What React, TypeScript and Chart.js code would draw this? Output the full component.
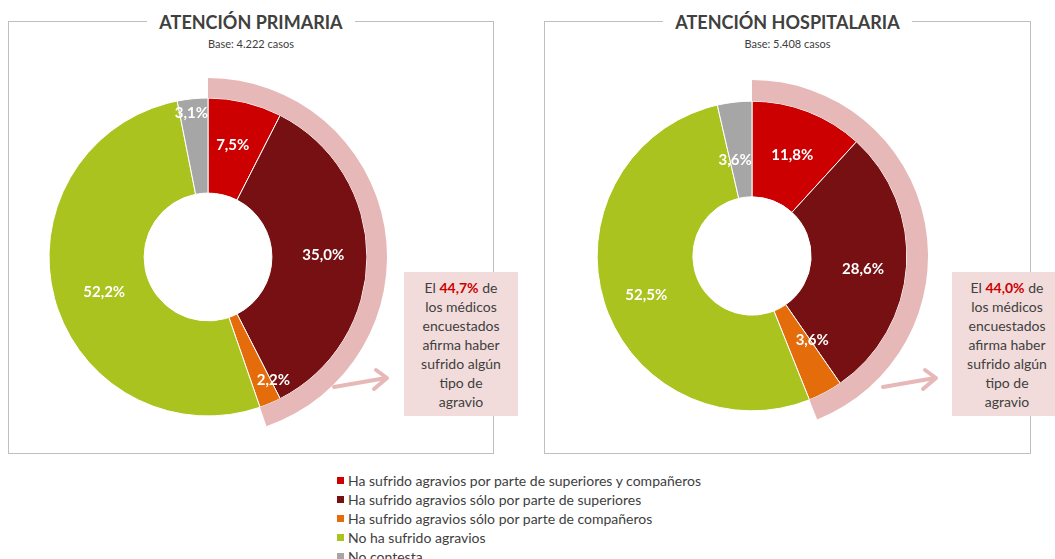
import React, { useEffect, useRef } from "react";
import { Chart, registerables } from "chart.js";

Chart.register(...registerables);

// ---------- DATA ----------
const categories = [
  "Ha sufrido agravios por parte de superiores y compañeros",
  "Ha sufrido agravios sólo por parte de superiores",
  "Ha sufrido agravios sólo por parte de compañeros",
  "No ha sufrido agravios",
  "No contesta",
];
const primariaValues = [7.5, 35.0, 2.2, 52.2, 3.1];
const hospitalariaValues = [11.8, 28.6, 3.6, 52.5, 3.6];
const affectedCategoryCount = 3; // first three categories = some kind of grievance
const panelTitles = ["ATENCIÓN PRIMARIA", "ATENCIÓN HOSPITALARIA"];
const panelBases = ["Base: 4.222 casos", "Base: 5.408 casos"];

// ---------- STYLE ----------
const sliceColors = ["#CC0000", "#761012", "#E46C0A", "#AAC31F", "#A6A6A6"];
const ringColor = "#E6B9B8";
const calloutFill = "#F2DCDB";
const frameColor = "#BFBFBF";
const textColor = "#404040";

const fmt = (v: number) => v.toFixed(1).replace(".", ",") + "%";
const sum = (a: number[]) => a.reduce((s, v) => s + v, 0);

const sliceLabelPlugin = {
  id: "sliceLabels",
  afterDatasetsDraw(chart: any, _args: any, opts: any) {
    const meta = chart.getDatasetMeta(1);
    const values = chart.data.datasets[1].data as number[];
    const ctx = chart.ctx as CanvasRenderingContext2D;
    ctx.save();
    ctx.font = "bold 15px Lato";
    ctx.fillStyle = "#FFFFFF";
    ctx.textAlign = "center";
    ctx.textBaseline = "middle";
    meta.data.forEach((arc: any, i: number) => {
      const p = arc.getProps(["x", "y", "startAngle", "endAngle", "innerRadius", "outerRadius"], true);
      const a = (p.startAngle + p.endAngle) / 2 + ((opts.angleShift?.[i] || 0) * Math.PI) / 180;
      const r = p.innerRadius + (p.outerRadius - p.innerRadius) * (opts.radial?.[i] ?? 0.5);
      ctx.fillText(fmt(values[i]), p.x + r * Math.cos(a), p.y + r * Math.sin(a));
    });
    ctx.restore();
  },
};

function Donut(props: {
  values: number[];
  size: number;
  left: number;
  top: number;
  cutout: string;
  ringWeight: number;
  mainWeight: number;
  radial: number[];
  angleShift: number[];
}) {
  const ref = useRef<HTMLCanvasElement | null>(null);
  useEffect(() => {
    if (!ref.current) return;
    const total = sum(props.values);
    const affected = sum(props.values.slice(0, affectedCategoryCount));
    const chart = new Chart(ref.current, {
      type: "doughnut",
      data: {
        labels: categories,
        datasets: [
          {
            data: [affected, total - affected],
            backgroundColor: [ringColor, "rgba(0,0,0,0)"],
            borderWidth: 0,
            weight: props.ringWeight,
          } as any,
          {
            data: props.values,
            backgroundColor: sliceColors,
            borderColor: "#FFFFFF",
            borderWidth: 1,
            weight: props.mainWeight,
          } as any,
        ],
      },
      options: {
        responsive: false,
        maintainAspectRatio: false,
        animation: false,
        devicePixelRatio: 1,
        cutout: props.cutout,
        events: [],
        layout: { padding: 0 },
        plugins: {
          legend: { display: false },
          tooltip: { enabled: false },
          sliceLabels: { radial: props.radial, angleShift: props.angleShift },
        } as any,
      },
      plugins: [sliceLabelPlugin],
    });
    return () => chart.destroy();
  }, []);
  return (
    <canvas
      ref={ref}
      width={props.size}
      height={props.size}
      style={{ position: "absolute", left: props.left, top: props.top, width: props.size, height: props.size }}
    />
  );
}

function Panel(props: { left: number; width: number; title: string; base: string }) {
  return (
    <>
      <div
        style={{
          position: "absolute",
          left: props.left,
          top: 21,
          width: props.width,
          height: 433,
          border: `1px solid ${frameColor}`,
          boxSizing: "border-box",
        }}
      />
      <div
        style={{
          position: "absolute",
          left: props.left,
          width: props.width,
          top: 9,
          textAlign: "center",
        }}
      >
        <span
          style={{
            background: "#fff",
            padding: "0 12px",
            font: "bold 18px Lato",
            color: textColor,
            lineHeight: "26px",
          }}
        >
          {props.title}
        </span>
      </div>
      <div
        style={{
          position: "absolute",
          left: props.left,
          width: props.width,
          top: 37,
          textAlign: "center",
          font: "11px Lato",
          color: textColor,
        }}
      >
        {props.base}
      </div>
    </>
  );
}

function Callout(props: { left: number; width: number; value: number }) {
  return (
    <div
      style={{
        position: "absolute",
        left: props.left,
        top: 272,
        width: props.width,
        height: 144,
        background: calloutFill,
        boxSizing: "border-box",
        paddingTop: 6,
        textAlign: "center",
        font: "14px Lato",
        lineHeight: "19px",
        color: textColor,
      }}
    >
      El <span style={{ color: "#CC0000", fontWeight: "bold" }}>{fmt(props.value)}</span> de
      <br />
      los médicos
      <br />
      encuestados
      <br />
      afirma haber
      <br />
      sufrido algún
      <br />
      tipo de
      <br />
      agravio
    </div>
  );
}

function Arrow(props: { dx: number }) {
  const d = props.dx;
  return (
    <svg
      width={1055}
      height={559}
      style={{ position: "absolute", left: 0, top: 0, pointerEvents: "none" }}
    >
      <g stroke={ringColor} strokeWidth={4} fill="none" strokeLinecap="round" strokeLinejoin="round">
        <line x1={334 + d} y1={387} x2={386 + d} y2={378} />
        <polyline points={`${376 + d},${370} ${387 + d},${378} ${374 + d},${389}`} />
      </g>
    </svg>
  );
}

export default function App() {
  useEffect(() => {
    document.body.style.margin = "0";
  }, []);
  const affP = sum(primariaValues.slice(0, affectedCategoryCount));
  const affH = sum(hospitalariaValues.slice(0, affectedCategoryCount));
  return (
    <div style={{ position: "relative", width: 1055, height: 559, overflow: "hidden", background: "#fff" }}>
      <Panel left={8} width={486} title={panelTitles[0]} base={panelBases[0]} />
      <Panel left={544} width={487} title={panelTitles[1]} base={panelBases[1]} />
      <Arrow dx={0} />
      <Arrow dx={549} />
      <Donut
        values={primariaValues}
        size={358}
        left={29}
        top={78}
        cutout="35.7%"
        ringWeight={20}
        mainWeight={95}
        radial={[0.53, 0.54, 0.79, 0.48, 0.85]}
        angleShift={[-1, -1, -5, -3.5, -1]}
      />
      <Donut
        values={hospitalariaValues}
        size={352}
        left={576}
        top={80}
        cutout="33.6%"
        ringWeight={21}
        mainWeight={95}
        radial={[0.52, 0.55, 0.46, 0.56, 0.4]}
        angleShift={[0.5, 2.7, -7.5, -3, -3.5]}
      />
      <Callout left={404} width={114} value={affP} />
      <Callout left={952} width={110} value={affH} />
      <div style={{ position: "absolute", left: 337, top: 471, font: "14px Lato", color: textColor }}>
        {categories.map((c, i) => (
          <div key={c} style={{ height: 19, lineHeight: "19px", whiteSpace: "nowrap", display: "flex", alignItems: "center" }}>
            <span style={{ display: "inline-block", width: 7, height: 7, background: sliceColors[i], marginRight: 4 }} />
            {c}
          </div>
        ))}
      </div>
    </div>
  );
}
